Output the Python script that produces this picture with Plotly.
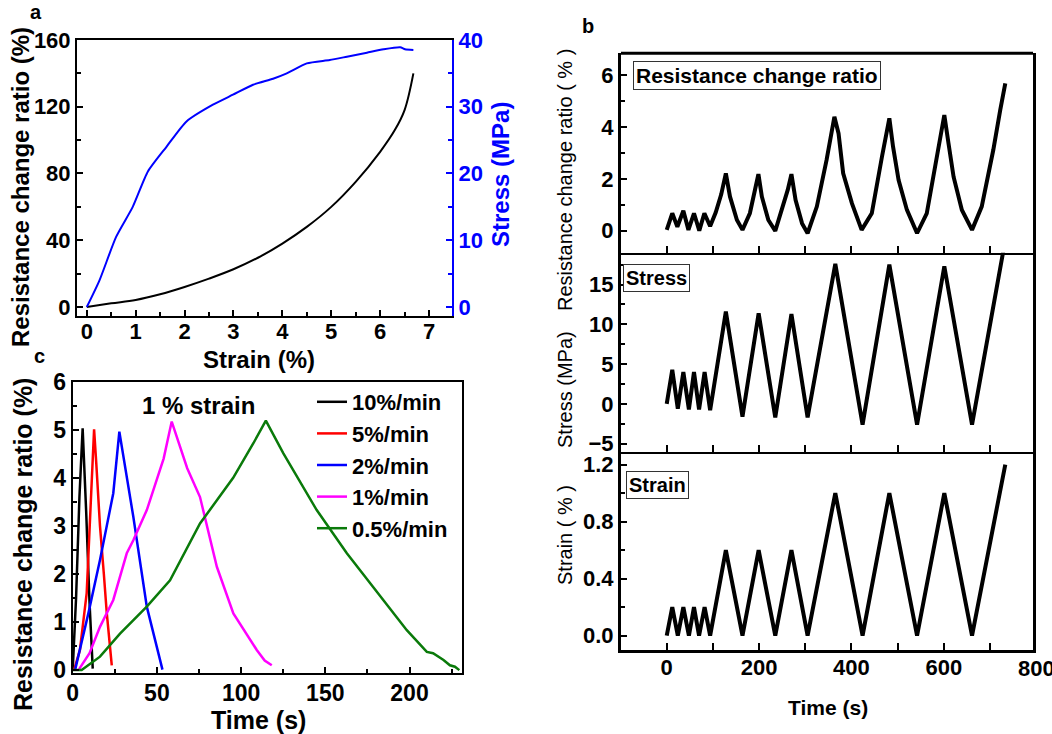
import plotly.graph_objects as go

W, H = 1052, 734
FONT = "Liberation Sans, Arial, sans-serif"

# ---------------- Panel a data ----------------
a_strain_r = [0, 0.5, 1.0, 1.5, 2.0, 2.5, 3.0, 3.5, 4.0, 4.5, 5.0, 5.5, 6.0, 6.3, 6.5, 6.68]
a_resist = [0, 2.2, 4.2, 7.6, 12.0, 17.0, 22.6, 29.5, 38.0, 48.0, 60.0, 75.0, 93.0, 106.0, 118.0, 140.0]
a_strain_s = [0, 0.26, 0.6, 0.94, 1.25, 1.63, 2.04, 2.58, 2.99, 3.40, 3.81, 4.09, 4.5, 4.97, 5.32, 5.73, 6.07, 6.41, 6.51, 6.68]
a_stress = [0, 4.0, 10.5, 15.0, 20.3, 24.0, 27.8, 30.3, 31.8, 33.3, 34.2, 35.0, 36.5, 37.0, 37.5, 38.1, 38.6, 38.9, 38.6, 38.5]

# ---------------- Panel b data ----------------
b_t_r = [0, 12, 23, 36, 47, 59, 70.5, 81.5, 94,
         106, 118, 128, 137, 152, 164,
         180, 191, 198.5, 206, 220, 235,
         249, 262, 270, 279, 293, 305,
         325, 346, 363, 372, 382, 401, 422,
         444, 466, 482, 490, 502, 520, 542,
         563, 585, 601, 610, 621, 639, 661,
         682, 707, 722, 733]
b_resist = [0.03, 0.67, 0.15, 0.77, 0.03, 0.67, 0.0, 0.67, 0.17,
            0.7, 1.4, 2.21, 1.31, 0.41, 0.03,
            0.67, 1.57, 2.18, 1.31, 0.41, -0.01,
            0.8, 1.57, 2.18, 1.18, 0.28, -0.1,
            0.93, 2.72, 4.39, 3.75, 2.21, 1.05, 0.03,
            0.67, 2.85, 4.33, 3.24, 1.95, 0.8, -0.1,
            0.67, 2.85, 4.46, 3.37, 2.08, 0.8, 0.03,
            0.93, 3.11, 4.65, 5.68]
b_t = [0, 12, 24, 36, 48, 59, 70, 82, 94, 128, 164, 199, 235, 270, 305, 365, 424, 482, 542, 601, 661, 733]
b_stress = [0, 4.3, -0.6, 4.0, -0.7, 4.0, -0.7, 4.0, -0.8, 11.6, -1.6, 11.4, -1.7, 11.3, -1.7,
            17.6, -2.6, 17.5, -2.6, 17.3, -2.6, 20.6]
b_strain = [0, 0.2, 0, 0.2, 0, 0.2, 0, 0.2, 0, 0.6, 0, 0.6, 0, 0.6, 0, 1.0, 0, 1.0, 0, 1.0, 0, 1.2]
b_xticks = [0, 200, 400, 600, 800]

# ---------------- Panel c data ----------------
c_names = ["10%/min", "5%/min", "2%/min", "1%/min", "0.5%/min"]
c_colors = ["#000000", "#ff0000", "#0000ff", "#ff00ff", "#0a7a0a"]
c_t = [
    [0, 2, 4, 5.9, 8, 10, 11.9],
    [0.8, 4.3, 8.3, 10.5, 12.7, 14, 16.2, 18.5, 20.2, 23.2],
    [1.4, 9.3, 16.2, 24.1, 27.7, 36, 44, 53.3],
    [3.8, 10, 16.2, 24.1, 32.1, 36, 44, 49.9, 54, 58.8, 64.8, 68, 75.6, 85.6, 95.4, 109.3, 114, 118.2],
    [0, 5.3, 16.2, 28.1, 44, 57.8, 75.6, 95.3, 107.3, 114.7, 125.1, 144.9, 162.8, 182.6, 198.4,
     210.3, 214, 220.2, 224, 227, 229.6],
]
c_r = [
    [0, 1.5, 3.6, 5.03, 3.3, 1.4, 0.03],
    [0, 0.42, 1.6, 3.2, 5.01, 4.3, 3.0, 2.0, 1.2, 0.1],
    [0, 1.18, 2.29, 3.68, 4.96, 3.19, 1.32, 0.01],
    [0.02, 0.35, 0.9, 1.46, 2.43, 2.7, 3.33, 3.95, 4.4, 5.17, 4.51, 4.2, 3.6, 2.15, 1.18, 0.42, 0.2, 0.1],
    [0, 0, 0.28, 0.76, 1.32, 1.87, 3.05, 4.0, 4.72, 5.19, 4.51, 3.33, 2.43, 1.53, 0.83,
     0.38, 0.35, 0.21, 0.1, 0.07, 0.0],
]


def px(x):
    return x / W


def py(y):
    return 1 - y / H


fig = go.Figure()

# Panel a
fig.add_trace(go.Scatter(x=a_strain_r, y=a_resist, mode="lines", line=dict(color="black", width=2, shape="spline"),
                         xaxis="x", yaxis="y", showlegend=False))
fig.add_trace(go.Scatter(x=a_strain_s, y=a_stress, mode="lines", line=dict(color="#0000ff", width=2, shape="spline", smoothing=0.6),
                         xaxis="x", yaxis="y2", showlegend=False))

# Panel c
for n, col, t, r in zip(c_names, c_colors, c_t, c_r):
    fig.add_trace(go.Scatter(x=t, y=r, mode="lines", name=n, line=dict(color=col, width=2.5),
                             xaxis="x3", yaxis="y3", showlegend=True))

# Panel b
fig.add_trace(go.Scatter(x=b_t_r, y=b_resist, mode="lines", line=dict(color="black", width=4),
                         xaxis="x4", yaxis="y4", showlegend=False))
fig.add_trace(go.Scatter(x=b_t, y=b_stress, mode="lines", line=dict(color="black", width=4),
                         xaxis="x5", yaxis="y5", showlegend=False))
fig.add_trace(go.Scatter(x=b_t, y=b_strain, mode="lines", line=dict(color="black", width=4),
                         xaxis="x6", yaxis="y6", showlegend=False))

tickf_a = dict(family=FONT, size=22, color="black", weight="bold")
tickf_c = dict(family=FONT, size=23, color="black", weight="bold")
tickf_b = dict(family=FONT, size=22, color="black", weight="bold")

common = dict(showgrid=False, zeroline=False, ticks="inside", linecolor="black", tickcolor="black",
              automargin=False)

XB_L, XB_R = 621, 1033
xb_dom = [px(XB_L), px(XB_R)]
xb_range = [-99, 793]
fig.update_layout(
    width=W, height=H, margin=dict(l=0, r=0, t=0, b=0, pad=0, autoexpand=False),
    autosize=False,
    paper_bgcolor="white", plot_bgcolor="white",
    font=dict(family=FONT, color="black"),
    # panel a
    xaxis=dict(domain=[px(77), px(452)], anchor="y", range=[-0.2, 7.47], dtick=1, tick0=0,
               showline=True, linewidth=2, mirror=True, ticklen=6, tickwidth=1.5, tickfont=tickf_a,
               ticklabelstandoff=-5,
               minor=dict(dtick=0.5, ticks="inside", ticklen=4, tickcolor="black"), **common),
    yaxis=dict(domain=[py(316), py(40)], anchor="x", range=[-5.4, 160], dtick=40, tick0=0,
               showline=True, linewidth=2, mirror=False, ticklen=6, tickwidth=1.5, tickfont=tickf_a,
               minor=dict(dtick=20, ticks="inside", ticklen=4, tickcolor="black"), **common),
    yaxis2=dict(overlaying="y", side="right", anchor="x", range=[-1.35, 40], dtick=10, tick0=0,
                showgrid=False, zeroline=False, ticks="inside", showline=True, linewidth=2,
                linecolor="#0000ff", tickcolor="#0000ff", ticklen=6, tickwidth=1.5, automargin=False,
                tickfont=dict(family=FONT, size=22, color="#0000ff", weight="bold"),
                minor=dict(dtick=5, ticks="inside", ticklen=4, tickcolor="#0000ff")),
    # panel c
    xaxis3=dict(domain=[px(72.7), px(461.7)], anchor="y3", range=[0, 231], dtick=50, tick0=0,
                showline=True, linewidth=2, mirror=True, ticklen=6, tickwidth=1.5, tickfont=tickf_c,
                ticklabelstandoff=-2,
                minor=dict(dtick=25, ticks="inside", ticklen=4, tickcolor="black"), **common),
    yaxis3=dict(domain=[py(673), py(381.7)], anchor="x3", range=[-0.06, 6], dtick=1, tick0=0,
                showline=True, linewidth=2, mirror=True, ticklen=6, tickwidth=1.5, tickfont=tickf_c,
                minor=dict(dtick=0.5, ticks="inside", ticklen=4, tickcolor="black"), **common),
    # panel b
    xaxis4=dict(domain=xb_dom, anchor="y4", range=xb_range, dtick=200, tick0=0, showticklabels=False,
                showline=True, linewidth=1.5, ticklen=7, tickwidth=1.5,
                minor=dict(dtick=100, ticks="inside", ticklen=7, tickwidth=1.5, tickcolor="black"), **common),
    xaxis5=dict(domain=xb_dom, anchor="y5", range=xb_range, dtick=200, tick0=0, showticklabels=False,
                showline=True, linewidth=1.5, ticklen=7, tickwidth=1.5,
                minor=dict(dtick=100, ticks="inside", ticklen=7, tickwidth=1.5, tickcolor="black"), **common),
    xaxis6=dict(domain=xb_dom, anchor="y6", range=xb_range, dtick=200, tick0=0, tickfont=tickf_b,
                showline=True, linewidth=3, ticklen=7, tickwidth=1.5, ticklabelstandoff=-4,
                minor=dict(dtick=100, ticks="inside", ticklen=7, tickwidth=1.5, tickcolor="black"), **common),
    yaxis4=dict(domain=[py(252.7), py(53.3)], anchor="x4", range=[-0.85, 6.84], dtick=2, tick0=0,
                showline=True, linewidth=3, mirror=True, ticklen=6, tickwidth=1.5, tickfont=tickf_b,
                minor=dict(dtick=1, ticks="inside", ticklen=4, tickcolor="black"), **common),
    yaxis5=dict(domain=[py(451.7), py(252.7)], anchor="x5", range=[-6, 19], dtick=5, tick0=0,
                showline=True, linewidth=3, mirror=True, ticklen=6, tickwidth=1.5, tickfont=tickf_b,
                minor=dict(dtick=2.5, ticks="inside", ticklen=4, tickcolor="black"), **common),
    yaxis6=dict(domain=[py(650), py(451.7)], anchor="x6", range=[-0.1, 1.29], dtick=0.4, tick0=0,
                tickformat=".1f",
                showline=True, linewidth=3, mirror=True, ticklen=6, tickwidth=1.5, tickfont=tickf_b,
                minor=dict(dtick=0.2, ticks="inside", ticklen=4, tickcolor="black"), **common),
    legend=dict(x=px(312), y=py(381), xanchor="left", yanchor="top", bgcolor="rgba(0,0,0,0)",
                font=dict(family=FONT, size=22, color="black", weight="bold"),
                tracegroupgap=0, itemwidth=30),
)

# top frame line of panel b
fig.add_shape(type="line", xref="paper", yref="paper", x0=px(XB_L), x1=px(XB_R), y0=py(53.3), y1=py(53.3),
              line=dict(color="black", width=3))


def ann(text, x, y, size, angle=0, bold=True, color="black", **kw):
    fig.add_annotation(text=text, x=px(x), y=py(y), xref="paper", yref="paper", showarrow=False,
                       textangle=angle, xanchor=kw.pop("xanchor", "center"), yanchor=kw.pop("yanchor", "middle"),
                       font=dict(family=FONT, size=size, color=color, weight="bold" if bold else "normal"), **kw)


# panel letters
ann("a", 36, 12, 20)
ann("b", 588, 26, 20)
ann("c", 39, 356, 20)

# panel a titles
ann("Resistance change ratio (%)", 21, 187, 24, angle=-90)
ann("Stress (MPa)", 500, 175, 24, angle=-90, color="#0000ff")
ann("Strain (%)", 259, 359, 24)

# panel c titles
ann("Resistance change ratio (%)", 23, 545, 25, angle=-90)
ann("Time (s)", 258, 720, 25)
fig.add_annotation(text="1 % strain", x=74.5, y=5.5, xref="x3", yref="y3", showarrow=False,
                   font=dict(family=FONT, size=24, color="black", weight="bold"))

# panel b: last tick label lies just beyond the axis end (clipped by the page edge)
last = b_xticks[-1]
x_last = XB_L + (last - xb_range[0]) / (xb_range[1] - xb_range[0]) * (XB_R - XB_L)
ann(str(last), x_last, 668, 22)

# panel b titles
ann("Resistance change ratio ( % )", 565, 180, 20, angle=-90, bold=False)
ann("Stress (MPa)", 565, 390, 20, angle=-90, bold=False)
ann("Strain ( % )", 565, 535, 20, angle=-90, bold=False)
ann("Time (s)", 828, 707, 21)

# boxed labels in panel b
box = dict(bordercolor="#333333", borderwidth=1, bgcolor="white", borderpad=2)
ann("Resistance change ratio", 633, 75, 21, xanchor="left", **box)
ann("Stress", 623, 278, 20, xanchor="left", **box)
ann("Strain", 626, 485, 20, xanchor="left", **box)

fig.write_html("out.html")
